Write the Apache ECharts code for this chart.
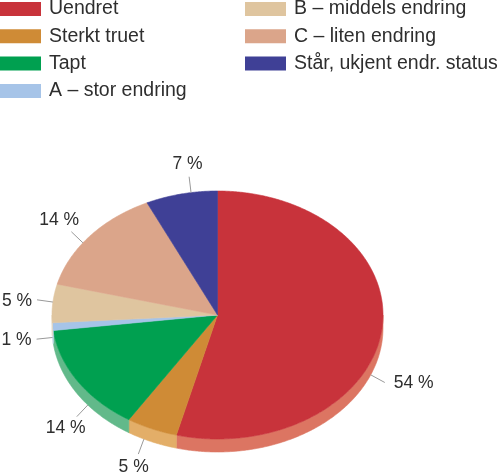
<!DOCTYPE html>
<html><head><meta charset="utf-8">
<script src="https://cdn.jsdelivr.net/npm/echarts@6/dist/echarts.min.js"></script>
<style>html,body{margin:0;padding:0;background:#fff}#c{width:500px;height:475px}</style>
</head><body><div id="c"></div><script>
// ---- data ----
const categories = ['Uendret','Sterkt truet','Tapt','A – stor endring','B – middels endring','C – liten endring','Står, ukjent endr. status'];
const percents = [54, 5, 14, 1, 5, 14, 7];
// ---- styles / layout ----
const colors = ['#c8333b','#cf8b36','#00a050','#a6c4e8','#dfc59f','#dba58a','#3f4096'];
const sideColors = ['#dc7562','#e3ae68','#62b98a','#c3d7ef','#ead8bd','#e7c1ad','#7778b8'];
const labelAngleAdjust = [15, 3, -6, 1, 0.6, -4, 3.4];
const FONT = "'Liberation Sans', Arial, Helvetica, sans-serif";
const CX = 217.5, CY = 315, RX = 165.5, RY = 124, DEPTH = 13;
const LABEL_SIZE = 17.5, LEADER = 16;

const total = percents.reduce((a, b) => a + b, 0);
const starts = [];
let acc = 0;
percents.forEach(v => { starts.push(acc); acc += v; });

const mctx = document.createElement('canvas').getContext('2d');
mctx.font = LABEL_SIZE + 'px ' + FONT;

function pt(t, dy) {
  const r = t * Math.PI / 180;
  return [CX + RX * Math.sin(r), CY - RY * Math.cos(r) + (dy || 0)];
}

function makeRender(i) {
  return function (params, api) {
    const s = api.value(0), v = api.value(1);
    const a0 = s / total * 360, a1 = (s + v) / total * 360;
    const children = [];
    // side (visible lower half)
    const lo = Math.max(a0, 90), hi = Math.min(a1, 270);
    if (hi > lo) {
      const n = Math.max(2, Math.ceil((hi - lo) * 2));
      const pts = [];
      for (let k = 0; k <= n; k++) pts.push(pt(lo + (hi - lo) * k / n));
      for (let k = n; k >= 0; k--) pts.push(pt(lo + (hi - lo) * k / n, DEPTH));
      children.push({ type: 'polygon', shape: { points: pts },
        style: { fill: sideColors[i], stroke: sideColors[i], lineWidth: 0.6 } });
    }
    // top surface
    const n2 = Math.max(2, Math.ceil((a1 - a0) * 2));
    const tp = [[CX, CY]];
    for (let k = 0; k <= n2; k++) tp.push(pt(a0 + (a1 - a0) * k / n2));
    children.push({ type: 'polygon', shape: { points: tp },
      style: { fill: colors[i], stroke: colors[i], lineWidth: 0.6 } });
    // label
    const mid = (a0 + a1) / 2 + labelAngleAdjust[i];
    const lower = mid > 90 && mid < 270;
    const anc = pt(mid, lower ? DEPTH : 0);
    const r = mid * Math.PI / 180;
    let nx = Math.sin(r) / RX, ny = -Math.cos(r) / RY;
    const nl = Math.hypot(nx, ny); nx /= nl; ny /= nl;
    const end = [anc[0] + nx * LEADER, anc[1] + ny * LEADER];
    children.push({ type: 'line', shape: { x1: anc[0], y1: anc[1], x2: end[0], y2: end[1] },
      style: { stroke: '#999', lineWidth: 1 } });
    const txt = v + ' %';
    const w = mctx.measureText(txt).width;
    let tx, ty;
    if (Math.abs(nx) > 0.8) {
      tx = end[0] + Math.sign(nx) * (w / 2 + (nx > 0 ? 9 : 5));
      ty = end[1] + 1;
    } else {
      const a = w / 2 + 7, b = 13;
      const sd = 1 / Math.sqrt((nx / a) ** 2 + (ny / b) ** 2);
      tx = end[0] + nx * sd; ty = end[1] + ny * sd;
    }
    children.push({ type: 'text', x: tx, y: ty,
      style: { text: txt, fill: '#2e2e2e', fontSize: LABEL_SIZE, fontFamily: FONT,
        align: 'center', verticalAlign: 'middle' } });
    return { type: 'group', children };
  };
}

const legendBase = {
  orient: 'vertical', icon: 'rect', itemWidth: 41, itemHeight: 14, itemGap: 7.3,
  padding: 0, top: -1, selectedMode: false,
  textStyle: { fontSize: 19.5, lineHeight: 20, color: '#2e2e2e', fontFamily: FONT, padding: [0, 0, 0, 3] }
};

const chart = echarts.init(document.getElementById('c'));
chart.setOption({
  animation: false,
  legend: [
    Object.assign({}, legendBase, { left: 0, data: categories.slice(0, 4) }),
    Object.assign({}, legendBase, { left: 245, data: categories.slice(4) })
  ],
  series: categories.map((name, i) => ({
    type: 'custom', name, coordinateSystem: 'none', silent: true,
    itemStyle: { color: colors[i] },
    data: [[starts[i], percents[i]]],
    renderItem: makeRender(i)
  }))
});
</script></body></html>
